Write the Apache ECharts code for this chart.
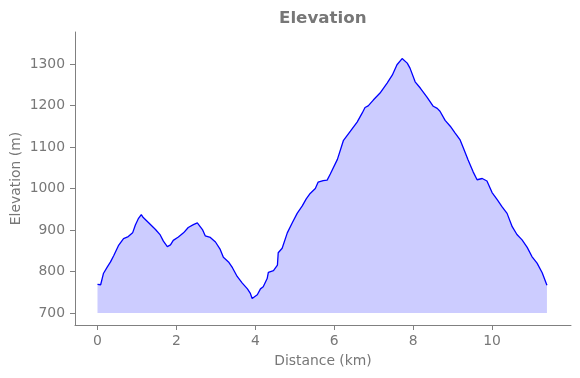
<!DOCTYPE html>
<html>
<head>
<meta charset="utf-8">
<script src="https://cdn.jsdelivr.net/npm/echarts@6/dist/echarts.min.js"></script>
<style>
  html, body { margin: 0; padding: 0; background: #fff; }
  #chart { width: 580px; height: 378px; }
</style>
</head>
<body>
<div id="chart"></div>
<script>
// profile
const distanceKm = [
  0.00, 0.08, 0.15, 0.25, 0.33, 0.41, 0.53, 0.66, 0.78, 0.89, 0.96, 1.04, 1.11, 1.16,
  1.29, 1.47, 1.59, 1.67, 1.77, 1.85, 1.92, 2.05, 2.18, 2.30, 2.43, 2.53, 2.58, 2.66,
  2.73, 2.86, 2.99, 3.11, 3.19, 3.32, 3.42, 3.54, 3.67, 3.80, 3.87, 3.92, 4.05, 4.13,
  4.20, 4.30, 4.33, 4.46, 4.56, 4.58, 4.68, 4.81, 4.94, 5.06, 5.19, 5.29, 5.39, 5.52,
  5.59, 5.72, 5.82, 5.90, 6.08, 6.23, 6.41, 6.58, 6.71, 6.78, 6.86, 6.99, 7.16, 7.34,
  7.47, 7.59, 7.72, 7.85, 7.92, 8.05, 8.18, 8.35, 8.51, 8.61, 8.68, 8.81, 8.94, 9.06,
  9.19, 9.27, 9.39, 9.52, 9.62, 9.75, 9.87, 10.00, 10.13, 10.25, 10.38, 10.51, 10.63,
  10.76, 10.89, 11.01, 11.14, 11.27, 11.39
];
const elevationM = [
  769, 768, 795, 811, 823, 838, 862, 879, 884, 893, 912, 928, 937, 930,
  918, 901, 888, 873, 860, 864, 875, 883, 893, 906, 913, 917, 916, 901,
  886, 882, 871, 853, 834, 823, 809, 788, 772, 758, 748, 735, 744, 758,
  763, 783, 798, 802, 815, 845, 856, 893, 918, 940, 958, 975, 988, 1000,
  1015, 1019, 1020, 1035, 1070, 1115, 1138, 1160, 1182, 1195, 1199, 1213, 1230, 1254,
  1273, 1298, 1313, 1302, 1290, 1257, 1242, 1220, 1198, 1193, 1186, 1164, 1150, 1134,
  1117, 1098, 1069, 1040, 1021, 1024, 1018, 990, 973, 956, 940, 908, 889,
  876, 858, 836, 820, 797, 767
];
const xTicks = [0, 2, 4, 6, 8, 10];
const yTicks = [700, 800, 900, 1000, 1100, 1200, 1300];
const baseElevation = 700;

const textGray = '#777777';
const axisGray = '#808080';
const font = 'DejaVu Sans';

const chart = echarts.init(document.getElementById('chart'), null, { renderer: 'canvas' });

const option = {
  animation: false,
  backgroundColor: '#ffffff',
  title: {
    text: 'Elevation',
    left: 279,
    top: 10,
    padding: 0,
    textStyle: { fontFamily: font, fontSize: 16.7, fontWeight: 'bold', color: textGray }
  },
  grid: { left: 75, right: 9, top: 32, bottom: 53, containLabel: false, outerBoundsMode: 'none' },
  xAxis: {
    type: 'value',
    min: -0.57,
    max: 12.0,
    name: 'Distance (km)',
    nameLocation: 'middle',
    nameGap: 29,
    nameMoveOverlap: false,
    nameTextStyle: { fontFamily: font, fontSize: 13.9, color: textGray },
    axisLine: { show: true, onZero: false, lineStyle: { color: axisGray, width: 1 } },
    axisTick: { show: true, length: 5, inside: false, customValues: xTicks, lineStyle: { color: axisGray } },
    axisLabel: { customValues: xTicks, margin: 9, fontFamily: font, fontSize: 13.9, color: textGray, formatter: v => String(v) },
    splitLine: { show: false }
  },
  yAxis: {
    type: 'value',
    min: 671,
    max: 1377,
    name: 'Elevation (m)',
    nameLocation: 'middle',
    nameRotate: 90,
    nameGap: 52,
    nameMoveOverlap: false,
    nameTextStyle: { fontFamily: font, fontSize: 13.9, color: textGray },
    axisLine: { show: true, onZero: false, lineStyle: { color: axisGray, width: 1 } },
    axisTick: { show: true, length: 5, inside: false, customValues: yTicks, lineStyle: { color: axisGray } },
    axisLabel: { customValues: yTicks, margin: 10, fontFamily: font, fontSize: 13.9, color: textGray, formatter: v => String(v) },
    splitLine: { show: false }
  },
  series: [
    {
      name: 'Elevation',
      type: 'line',
      data: distanceKm.map((d, i) => [d, elevationM[i]]),
      showSymbol: false,
      smooth: false,
      lineStyle: { color: '#0000ff', width: 1.3 },
      areaStyle: { color: '#ccccff', opacity: 1, origin: baseElevation },
      z: 3
    }
  ]
};
chart.setOption(option);
</script>
</body>
</html>
